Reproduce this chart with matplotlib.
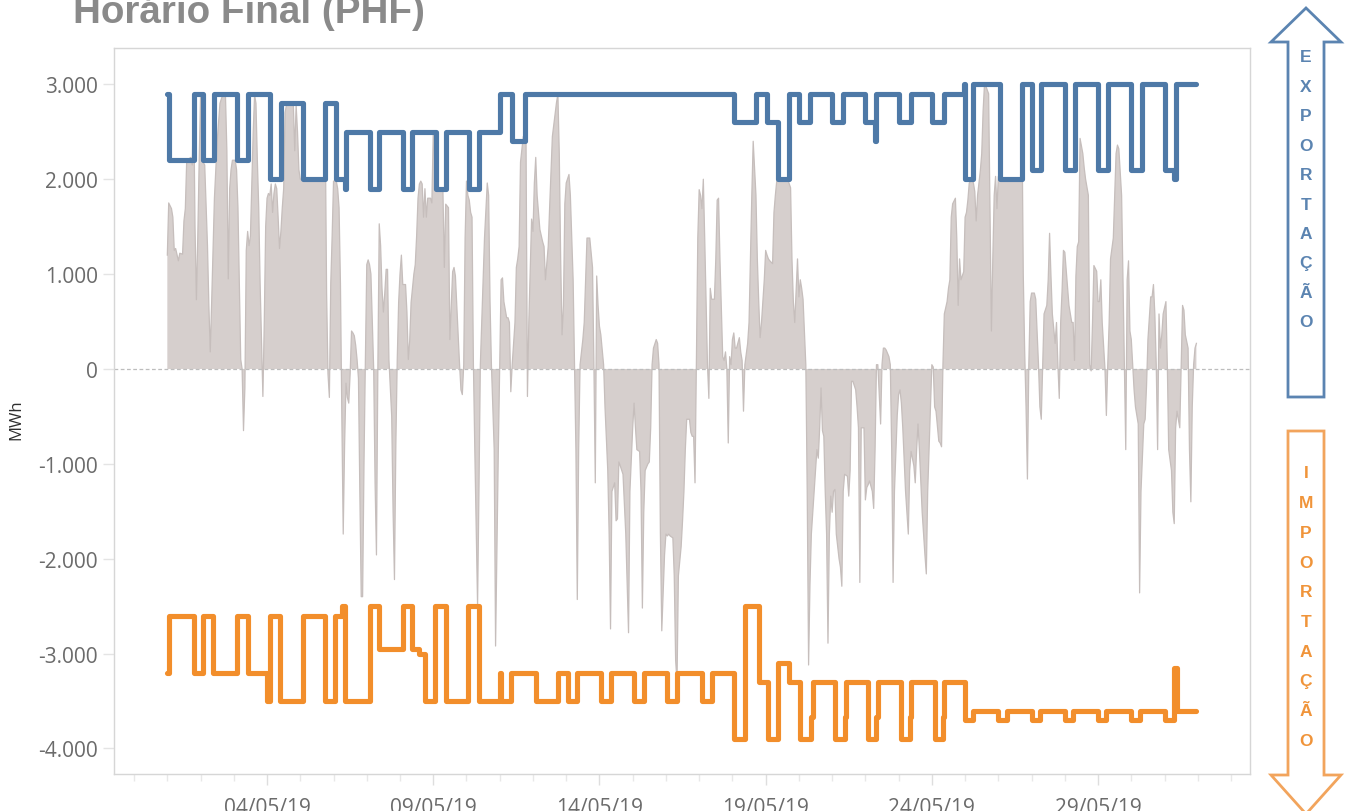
import numpy as np
import matplotlib
matplotlib.use("Agg")
import matplotlib.pyplot as plt
import matplotlib.dates as mdates
from matplotlib.ticker import FuncFormatter, FixedLocator
from matplotlib.patches import Polygon

plt.rcParams['font.family'] = ['Open Sans', 'DejaVu Sans']

# ---------------- data ----------------
title = "Horário Final (PHF)"
y_label = "MWh"
export_text = "EXPORTAÇÃO"
import_text = "IMPORTAÇÃO"
start = np.datetime64('2019-05-01T00:00')

# hourly balance (hours since 01/05/2019 00:00, MWh)
gray_hours = [
    0, 1, 3, 4, 5, 6, 8, 9, 11, 12, 13, 14, 17, 18, 19, 20, 21, 22, 23, 24, 25, 27, 29, 30, 31, 32,
    34, 36, 38, 40, 42, 43, 44, 45, 46, 47, 49, 50, 51, 52, 53, 54, 55, 56, 57, 58, 59, 60, 62, 63,
    64, 65, 66, 67, 68, 69, 70, 71, 72, 73, 74, 75, 76, 77, 78, 79, 80, 81, 82, 83, 84, 85, 86, 91,
    92, 93, 94, 95, 96, 113, 114, 115, 116, 117, 118, 119, 120, 122, 123, 124, 125, 126, 127, 128,
    129, 130, 131, 132, 133, 134, 135, 136, 137, 138, 139, 140, 141, 142, 143, 144, 145, 146, 147,
    148, 149, 150, 151, 152, 153, 154, 155, 156, 157, 158, 159, 160, 161, 162, 163, 164, 165, 166,
    167, 168, 169, 170, 172, 173, 174, 175, 176, 177, 178, 179, 180, 181, 182, 183, 184, 185, 186,
    187, 188, 190, 191,
    192, 194, 197, 199, 200, 201, 203, 204, 206, 207, 208, 209, 211, 212, 213, 214, 215, 216, 217,
    218, 219, 220, 221, 222, 224, 225, 226, 227, 229, 231, 232, 233, 234, 236, 237, 239, 240, 241,
    242, 243, 245, 246, 247, 248, 249, 251, 252, 253, 254, 255, 257, 258, 259, 260, 261, 263, 264,
    265, 266, 267, 269, 271, 272, 273, 275, 276, 278, 281, 282, 283, 284, 285, 286, 287, 288, 290,
    291, 293, 294, 295, 296, 297, 298, 299, 300, 301, 302, 303, 305, 307, 308, 309, 310, 311, 312,
    313, 315, 316, 318, 319, 320, 321, 323, 324, 325, 326, 327, 329, 331, 333, 334, 336, 337, 338,
    339, 341, 342, 343, 344, 345, 347, 348, 349, 350, 351, 353, 354, 355, 356, 357, 359, 360, 361,
    362, 363, 365, 366, 367, 368, 369, 371, 372, 373, 374, 375, 377, 378, 379, 380, 381, 382, 383,
    384, 385,
    386, 387, 388, 390, 391, 392, 393, 395, 396, 397, 398, 399, 401, 402, 403, 404, 405, 406, 407,
    408, 409, 410, 411, 413, 414, 415, 416, 417, 419, 420, 421, 422, 423, 425, 426, 427, 428, 429,
    431, 432, 433, 434, 435, 437, 438, 439, 440, 448, 450, 451, 452, 453, 455, 456, 457, 458, 459,
    461, 462, 463, 464, 465, 467, 468, 469, 470, 471, 472, 473, 474, 475, 476, 477, 478, 479, 480,
    481, 482, 483, 485, 486, 487, 488, 489, 491, 492, 493, 494, 495, 497, 498, 499, 500, 501, 503,
    504, 505, 506, 507, 509, 510, 511, 512, 513, 515, 516, 517, 518, 519, 521, 522, 523, 524, 525,
    527, 528, 529, 530, 531, 533, 534, 535, 536, 537, 539, 540, 541, 542, 543, 545, 546, 547, 548,
    549, 551, 552, 553, 554, 555, 557, 558, 559, 560, 561, 563, 564, 565, 566, 567, 569, 570,
    571, 572, 573, 575, 576, 577, 578, 579, 581, 582, 583, 584, 585, 587, 588, 589, 590, 591, 593,
    594, 595, 596, 597, 598, 599, 600, 602, 615, 616, 617, 618, 619, 620, 621, 622, 623, 624, 626,
    627, 629, 630, 631, 632, 633, 635, 636, 637, 638, 639, 641, 642, 643, 644, 645, 646, 647, 648,
    650, 651, 653, 654, 655, 656, 657, 658, 659, 661, 662, 663, 665, 666, 667, 668, 669, 671, 672,
    673, 674, 675, 677, 678, 679, 680, 681, 683, 684, 685, 686, 687, 689, 690, 691, 692, 693, 694,
    695, 696, 697, 698, 699, 701, 702, 703, 705, 706, 707, 708, 710, 711, 712, 713, 714, 715, 716,
    717, 718, 719, 721, 722, 723, 725, 726, 727, 728, 729, 731, 732, 733, 734, 735, 737, 738, 739,
    740, 741, 742, 743,
]
gray_mwh = [
    1200, 1750, 1690, 1600, 1250, 1270, 1140, 1220, 1210, 1560, 1690, 2200, 2230, 2150, 2890, 1500,
    730, 1400, 2200, 2880, 2200, 2150, 1300, 670, 180, 700,
    1800, 2400, 2800, 2890, 2870, 2300, 950, 1900, 2100, 2200, 2200, 2100, 1700, 900, 100, 0, -650,
    -200, 1250, 1450, 1300, 1400, 2500, 2890,
    2800, 2200, 1700, 900, 300, -290, 500, 1500, 1800, 1850, 1830, 1950, 1650, 1850, 1950, 1900,
    1600, 1270, 1450, 1700, 1900, 2700, 2780, 2780,
    2300, 2780, 2500, 2100, 2000, 2000, 2580, 800, -50, -300, 900, 1400, 1980, 1980, 1900, 1700,
    900, -500, -1740, -800,
    -150, -300, -360, -50, 400, 380, 350, 250, 100, -100, -1300, -2400, -2400, -1000, 100, 1100,
    1150, 1100, 1000,
    500, 0, -1200, -1960, 0, 1530, 1300, 850, 600, 800, 1050, 1050, 100, -200, -500, -1500, -2220,
    -800, 100,
    700, 1000, 1200, 890, 890, 600, 100, 300, 700, 850, 1000, 1100, 1400, 1800, 1950, 1980, 1950,
    1600, 1900,
    1600, 1800, 1800, 1750,
    2490, 1915, 1893, 1871, 1070, 1737, 1700, 310, 1025, 1070, 980, 670, 45, -220, -270, 45, 1380,
    1980, 1830,
    1780, 1650, 1600, 45, -850, -2490, -1290, 45, 490, 1380, 1960, 1830, 710, 45, -850, -2920, -850,
    45, 940,
    960, 710, 540, 540, 490, -240, 45, 490, 1070, 1160, 1290, 2180, 2450, 2450, 2400, -290, 490,
    1580, 1450,
    1960, 2230, 1830, 1470, 1340, 1290, 940, 1290, 1690, 2450, 2810, 2895, 2270, 1160, 360, 670,
    1740, 1960, 2050,
    1830, 940, 45, -850, -2430, -850, 45, 180, 310, 490, 940, 1380, 1380, 1070, 45, -1200, 980, 670,
    450,
    360, 45, -400, -1070, -1740, -2740, -1290, -1200, -1600, -1580, -980, -1020, -1110, -1740, -2780,
    -1290, -620, -360, -620,
    -850, -870, -1290, -2520, -1510, -1070, -1000, -980, -620, 45, 220, 310, 270, 45, -1740, -2760,
    -1960, -1740, -1760,
    -1740, -1760, -1780, -2180, -3070, -3300, -2180, -1870, -1600, -1290, -850, -530, -530, -670,
    -710, -710, -1200, 45, 1380,
    1890, 1830,
    1690, 2000, 1380, 45, -310, 850, 735, 735, 1160, 1780, 1800, 1160, 130, 90, 180, 0, -780, 130,
    45,
    310, 380, 220, 220, 330, 180, 90, -445, 45, 270, 490, 1160, 1830, 2400, 1830, 1160, 710, 330,
    490,
    940, 1250, 1200, 1160, 1140, 1110, 1650, 1830, 1980, 1995, 1910, 1160, 710, 490, 1160, 760, 940,
    850, 735,
    45, -1290, -3120, -2270, -1740, -1290, -1070, -850, -940, -620, -200, -650, -710, -1290, -1740,
    -2890, -1740, -1340, -1510,
    -1290, -1270, -1740, -2000, -2090, -2290, -1290, -1110, -1130, -1340, -1070, -130, -130, -220,
    -400, -620, -2250, -620, -620,
    -1380, -1250, -1220, -1180, -1290, -1470, -850, 45, 45, -580, 45, 220, 220, 200, 130, 45, -850,
    -2250, -1290,
    -490, -270, -220, -360, -620, -1290, -1510, -1740, -1070, -870, -1020, -1200, -850, -580, -850,
    -1510, -1740, -1960, -2160,
    -1290, -400, 45, 20, -400, -445, -760, -780, -820, 45, 580, 710, 850, 940, 1600, 1740, 1800,
    1380,
    670, 1160, 940, 1025, 1600, 1650, 1780, 1960, 2000, 1960, 1870, 1560, 1830, 2090, 2270, 2720,
    3000, 2980, 2900,
    1690, 400, 1160, 1830, 2030, 1690, 2030, 2000, 2000, 2000, 2740, 1000, 200, -400, -1160, 45,
    710, 800, 800,
    735, 45, -400, -530, 45, 580, 670, 940, 1430, 980, 580, 270, 490, 45, -310, 490, 820, 1250, 1230,
    850, 670, 490, 490, 90, 980, 1290, 1340, 2430, 2270, 2120, 2000, 1830, 45, -20, 490, 1090, 1030,
    710,
    710, 940, 490, 0, -490, 45, 490, 1160, 1380, 1830, 2270, 2360, 2320, 1830, 940, 45, -850, 940,
    1140,
    400, 310, 45, -220, -400, -580, -2360, -1290, -580, -530, -180, 310, 760, 760, 890, 580, 45,
    -850, 580,
    220, 360, 580, 710, 45, -850, -1070, -1510, -1630, -620, -445, -620, 45, 670, 620, 360, 220, -850,
    -1400,
    -400, 45, 220, 270,
]

# export capacity (step changes: start hour, MWh)
export_hours = [0, 1, 19, 26, 34, 50, 58, 74, 82, 98, 114, 122, 128, 129, 146, 153, 170, 177, 194,
                201, 218, 225, 240, 249, 258, 409, 425, 433, 441, 449, 456, 464, 480, 488, 504, 511,
                512, 528, 537, 552, 561, 575, 576, 582, 601, 617, 624, 631, 648, 655, 672, 679, 696,
                704, 720, 727, 728, 743]
export_mwh = [2900, 2200, 2900, 2200, 2900, 2200, 2900, 2000, 2800, 2000, 2800, 2000, 1900, 2500,
              1900, 2500, 1900, 2500, 1900, 2500, 1900, 2500, 2900, 2400, 2900, 2600, 2900, 2600,
              2000, 2900, 2600, 2900, 2600, 2900, 2600, 2400, 2900, 2600, 2900, 2600, 2900, 3000,
              2000, 3000, 2000, 3000, 2100, 3000, 2100, 3000, 2100, 3000, 2100, 3000, 2100, 2000,
              3000, 3000]

# import capacity (step changes: start hour, MWh)
import_hours = [0, 1, 19, 26, 33, 50, 58, 72, 74, 81, 98, 114, 121, 126, 128, 146, 153, 170, 177,
                182, 186, 193, 201, 217, 225, 240, 241, 248, 266, 282, 289, 296, 313, 320, 337, 344,
                361, 368, 386, 393, 409, 417, 427, 434, 441, 449, 457, 465, 466, 482, 489, 490, 506,
                512, 513, 530, 536, 537, 554, 560, 561, 576, 582, 600, 606, 624, 630, 648, 654, 672,
                678, 696, 702, 720, 727, 729, 743]
import_mwh = [-3200, -2600, -3200, -2600, -3200, -2600, -3200, -3500, -2600, -3500, -2600, -3500,
              -2600, -2500, -3500, -2500, -2950, -2500, -2950, -3000, -3500, -2500, -3500, -2500,
              -3500, -3200, -3500, -3200, -3500, -3200, -3500, -3200, -3500, -3200, -3500, -3200,
              -3500, -3200, -3500, -3200, -3900, -2500, -3300, -3900, -3100, -3300, -3900, -3670,
              -3300, -3900, -3670, -3300, -3900, -3670, -3300, -3900, -3670, -3300, -3900, -3670,
              -3300, -3700, -3600, -3700, -3600, -3700, -3600, -3700, -3600, -3700, -3600, -3700,
              -3600, -3700, -3150, -3600, -3600]

y_ticks = [-4000, -3000, -2000, -1000, 0, 1000, 2000, 3000]
date_tick_days = [4, 9, 14, 19, 24, 29]

# ---------------- figure ----------------
W, H = 1348, 812
fig = plt.figure(figsize=(W / 100, H / 100), dpi=100)
ax = fig.add_axes([114 / W, 1 - 775 / H, (1250 - 114) / W, (775 - 49) / H])


def to_dt(hours):
    return start + (np.asarray(hours, dtype=float) * 60).astype('timedelta64[m]')


gx = to_dt(gray_hours)
gy = np.asarray(gray_mwh, dtype=float)
ax.fill_between(gx, 0, gy, facecolor='#d6cfcd', edgecolor='none', zorder=1)
ax.plot(gx, gy, color='#c6bebc', lw=0.9, zorder=2)

ax.axhline(0, color='#bdbdbd', lw=0.9, ls=(0, (3, 2)), zorder=2.5)

ax.step(to_dt(export_hours), export_mwh, where='post', color='#4e79a7', lw=3.7,
        solid_joinstyle='round', solid_capstyle='round', zorder=4)
ax.step(to_dt(import_hours), import_mwh, where='post', color='#f28e2b', lw=3.7,
        solid_joinstyle='round', solid_capstyle='round', zorder=4)

ax.set_xlim(start - np.timedelta64(int(38.5 * 60), 'm'), start + np.timedelta64(int(781.7 * 60), 'm'))
ax.set_ylim(-4269, 3383)

ax.yaxis.set_major_locator(FixedLocator(y_ticks))
ax.yaxis.set_major_formatter(FuncFormatter(lambda v, p: f"{int(round(v)):,}".replace(',', '.')))
ax.xaxis.set_major_locator(mdates.DayLocator(bymonthday=date_tick_days))
ax.xaxis.set_minor_locator(mdates.DayLocator())
ax.xaxis.set_major_formatter(mdates.DateFormatter('%d/%m/%y'))

for s in ax.spines.values():
    s.set_color('#d6d6d6')
    s.set_linewidth(1.0)

ax.tick_params(axis='y', length=8, width=1, color='#e4e4e4', pad=3.6, labelsize=15,
               labelcolor='#6b6b6b')
ax.tick_params(axis='x', which='major', length=8, width=1, color='#dedede', pad=8.6,
               labelsize=15, labelcolor='#6b6b6b')
ax.tick_params(axis='x', which='minor', length=5, width=1, color='#e8e8e8')

fig.text(16 / W, 1 - 420 / H, y_label, rotation=90, ha='center', va='center', fontsize=12,
         color='#2e2e2e')

fig.text(73 / W, 1 - 23 / H, title, fontsize=27.8, fontweight='bold', color='#8a8a8a',
         family=['Liberation Sans', 'DejaVu Sans'], ha='left', va='baseline')

# ---------------- side arrows ----------------
def px(points):
    return [(x / W, 1 - y / H) for x, y in points]


up_arrow = [(1306, 9), (1341, 43), (1324, 43), (1324, 398), (1288, 398), (1288, 43), (1271, 43)]
down_arrow = [(1288, 432), (1324, 432), (1324, 776), (1341, 776), (1306, 815), (1271, 776),
              (1288, 776)]
fig.patches.append(Polygon(px(up_arrow), closed=True, facecolor='white', edgecolor='#5b84b1',
                           lw=2.0, transform=fig.transFigure, figure=fig))
fig.patches.append(Polygon(px(down_arrow), closed=True, facecolor='white', edgecolor='#f2a45c',
                           lw=2.0, transform=fig.transFigure, figure=fig))

for i, ch in enumerate(export_text):
    fig.text(1306 / W, 1 - (58 + 29.4 * i) / H, ch, ha='center', va='center', fontsize=12.5,
             fontweight='bold', color='#5b84b1', family=['Liberation Sans', 'DejaVu Sans'])
for i, ch in enumerate(import_text):
    fig.text(1306 / W, 1 - (474 + 29.7 * i) / H, ch, ha='center', va='center', fontsize=12.5,
             fontweight='bold', color='#f0943a', family=['Liberation Sans', 'DejaVu Sans'])

fig.savefig('out.png', dpi=100)
